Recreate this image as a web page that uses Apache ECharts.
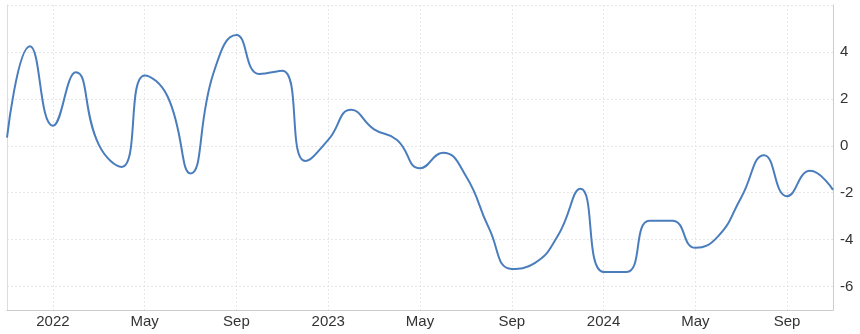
<!DOCTYPE html>
<html>
<head>
<meta charset="utf-8">
<script src="https://cdn.jsdelivr.net/npm/echarts@6/dist/echarts.min.js"></script>
<style>html,body{margin:0;padding:0;background:#fff}#c{width:860px;height:334px}</style>
</head>
<body>
<div id="c"></div>
<script>
const months = ['2021-11','2021-12','2022-01','2022-02','2022-03','2022-04','2022-05','2022-06','2022-07','2022-08','2022-09','2022-10','2022-11','2022-12',
  '2023-01','2023-02','2023-03','2023-04','2023-05','2023-06','2023-07','2023-08','2023-09','2023-10','2023-11','2023-12',
  '2024-01','2024-02','2024-03','2024-04','2024-05','2024-06','2024-07','2024-08','2024-09','2024-10','2024-11'];
const values = [0.35, 4.24, 0.85, 3.13, 0.05, -0.9, 3.0, 2.1, -1.18, 3.1, 4.72, 3.06, 3.2, -0.65,
  0.25, 1.53, 0.7, 0.25, -0.96, -0.3, -1.29, -3.5, -5.25, -5.0, -3.85, -1.83,
  -5.38, -5.38, -3.2, -3.2, -4.35, -3.85, -2.2, -0.4, -2.15, -1.07, -1.88];
const xTickMonths = ['2022-01','2022-05','2022-09','2023-01','2023-05','2023-09','2024-01','2024-05','2024-09'];
const xTickLabels = ['2022','May','Sep','2023','May','Sep','2024','May','Sep'];
const yTickValues = [-6, -4, -2, 0, 2, 4];
const yGridValues = [-6, -4, -2, 0, 2, 4, 6];

const chart = echarts.init(document.getElementById('c'));
const isTick = (i) => xTickMonths.indexOf(months[i]) >= 0;
const font = "'Liberation Sans', Arial, sans-serif";
chart.setOption({
  animation: false,
  grid: { left: 7, right: 27, top: 5, bottom: 24, containLabel: false },
  xAxis: {
    type: 'category',
    data: months,
    boundaryGap: false,
    axisLine: { show: true, onZero: false, lineStyle: { color: '#cccccc', width: 1 } },
    axisTick: { show: false },
    axisLabel: {
      interval: (i) => isTick(i),
      formatter: (v) => xTickLabels[xTickMonths.indexOf(v)],
      color: '#333333', fontSize: 15, fontFamily: font, margin: 4
    },
    splitLine: { show: true, interval: (i) => isTick(i), lineStyle: { color: '#e6e6e6', type: [2, 2], width: 1 } }
  },
  yAxis: [{
    type: 'value',
    position: 'right',
    min: -7, max: 6,
    axisLine: { show: true, lineStyle: { color: '#cccccc', width: 1 } },
    axisTick: { show: false, customValues: yGridValues },
    axisLabel: { customValues: yTickValues, color: '#333333', fontSize: 15, fontFamily: font, margin: 7 },
    splitLine: { show: true, lineStyle: { color: '#e6e6e6', type: [2, 2], width: 1 } }
  }, {
    type: 'value',
    position: 'left',
    min: -7, max: 6,
    axisLine: { show: true, onZero: false, lineStyle: { color: '#dddddd', width: 1 } },
    axisTick: { show: false },
    axisLabel: { show: false },
    splitLine: { show: false }
  }],
  series: [{
    type: 'line',
    data: values,
    yAxisIndex: 0,
    smooth: 0.5,
    showSymbol: false,
    lineStyle: { color: '#4a7dbd', width: 2 }
  }]
});
</script>
</body>
</html>
